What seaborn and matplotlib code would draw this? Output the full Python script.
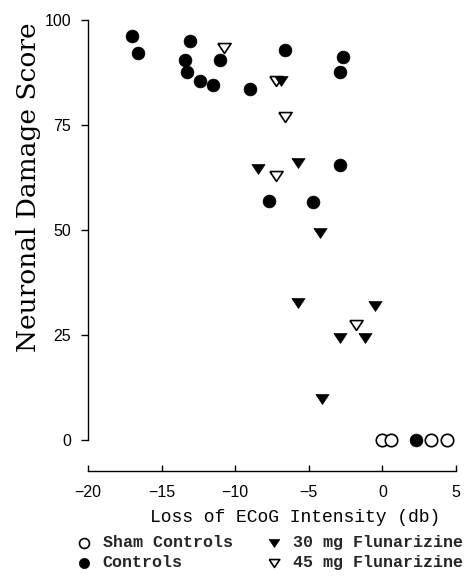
import matplotlib
matplotlib.use('Agg')
import matplotlib.pyplot as plt
import seaborn as sns

sns.set_style('ticks')
plt.rcParams['font.family'] = ['Liberation Sans', 'DejaVu Sans']

# Values: x = loss of ECoG intensity (db), y = neuronal damage score
sham_x = [0.0, 0.6, 3.3, 4.4]
sham_y = [0, 0, 0, 0]

ctrl_x = [-17.0, -16.6, -13.1, -13.4, -13.3, -12.4, -11.5, -11.0, -9.0, -6.6,
          -2.7, -2.9, -2.85, -7.7, -4.7, 2.3]
ctrl_y = [96.2, 92.1, 95.1, 90.5, 87.7, 85.5, 84.5, 90.4, 83.5, 92.9,
          91.1, 87.7, 65.5, 57.0, 56.7, 0]

fl30_x = [-6.9, -8.45, -5.75, -4.25, -5.75, -0.5, -2.9, -1.2, -4.1]
fl30_y = [85.5, 64.5, 66.0, 49.2, 32.5, 31.9, 24.2, 24.2, 9.7]

fl45_x = [-10.75, -7.25, -6.65, -7.2, -1.8]
fl45_y = [93.4, 85.5, 77.0, 62.9, 27.4]

labels = ['Sham Controls', 'Controls', '30 mg Flunarizine', '45 mg Flunarizine']
x_ticks = [-20, -15, -10, -5, 0, 5]
y_ticks = [0, 25, 50, 75, 100]

# flat downward triangle like the original symbol (closed path)
tri = [(-1, 0.75), (1, 0.75), (0, -0.75), (-1, 0.75)]

fig = plt.figure(figsize=(4.68, 5.76), dpi=100)
ax = fig.add_axes([88 / 468, 1 - 471 / 576, 368 / 468, 451 / 576])

# draw order matters where symbols overlap
h_sham = sns.scatterplot(x=sham_x, y=sham_y, ax=ax, marker='o', s=80, color='black',
                         facecolor='white', edgecolor='black', linewidth=1.2,
                         clip_on=False).collections[-1]
h_45 = sns.scatterplot(x=fl45_x, y=fl45_y, ax=ax, marker=tri, s=90, color='black',
                       facecolor='white', edgecolor='black', linewidth=1.2,
                       clip_on=False).collections[-1]
h_ctrl = sns.scatterplot(x=ctrl_x, y=ctrl_y, ax=ax, marker='o', s=85, color='black',
                         edgecolor='black', linewidth=0.5, clip_on=False).collections[-1]
h_30 = sns.scatterplot(x=fl30_x, y=fl30_y, ax=ax, marker=tri, s=90, color='black',
                       edgecolor='black', linewidth=0.5, clip_on=False).collections[-1]

ax.set_xlim(-20, 5)
ax.set_ylim(-7.4, 100)
ax.set_xticks(x_ticks)
ax.set_yticks(y_ticks)

sns.despine(ax=ax)
ax.spines['left'].set_bounds(0, 100)
for side in ['left', 'bottom']:
    ax.spines[side].set_linewidth(1.0)
    ax.spines[side].set_color('black')

ax.tick_params(axis='x', direction='in', length=4, width=1, pad=10, labelsize=11.5,
               colors='black')
ax.tick_params(axis='y', direction='out', length=5, width=1, pad=7, labelsize=11.5,
               colors='black')

ax.set_xlabel('Loss of ECoG Intensity (db)', family='Liberation Mono', fontsize=13,
              va='center', color='black')
ax.xaxis.set_label_coords(0.5625, -0.102)
ax.set_ylabel('Neuronal Damage Score', family='DejaVu Serif', fontsize=19,
              va='center', ha='center', color='black')
ax.yaxis.set_label_coords(-0.163, 0.63)

fig.legend([h_sham, h_ctrl, h_30, h_45], labels, ncol=2, loc='upper left',
           bbox_to_anchor=(76 / 468, 1 - 535 / 576), frameon=False,
           prop={'family': 'Liberation Mono', 'size': 12, 'weight': 'bold'},
           markerscale=0.8, handlelength=1.0, handletextpad=0.6,
           columnspacing=2.0, labelspacing=0.3, borderpad=0, borderaxespad=0)

fig.savefig('out.png', dpi=100)
